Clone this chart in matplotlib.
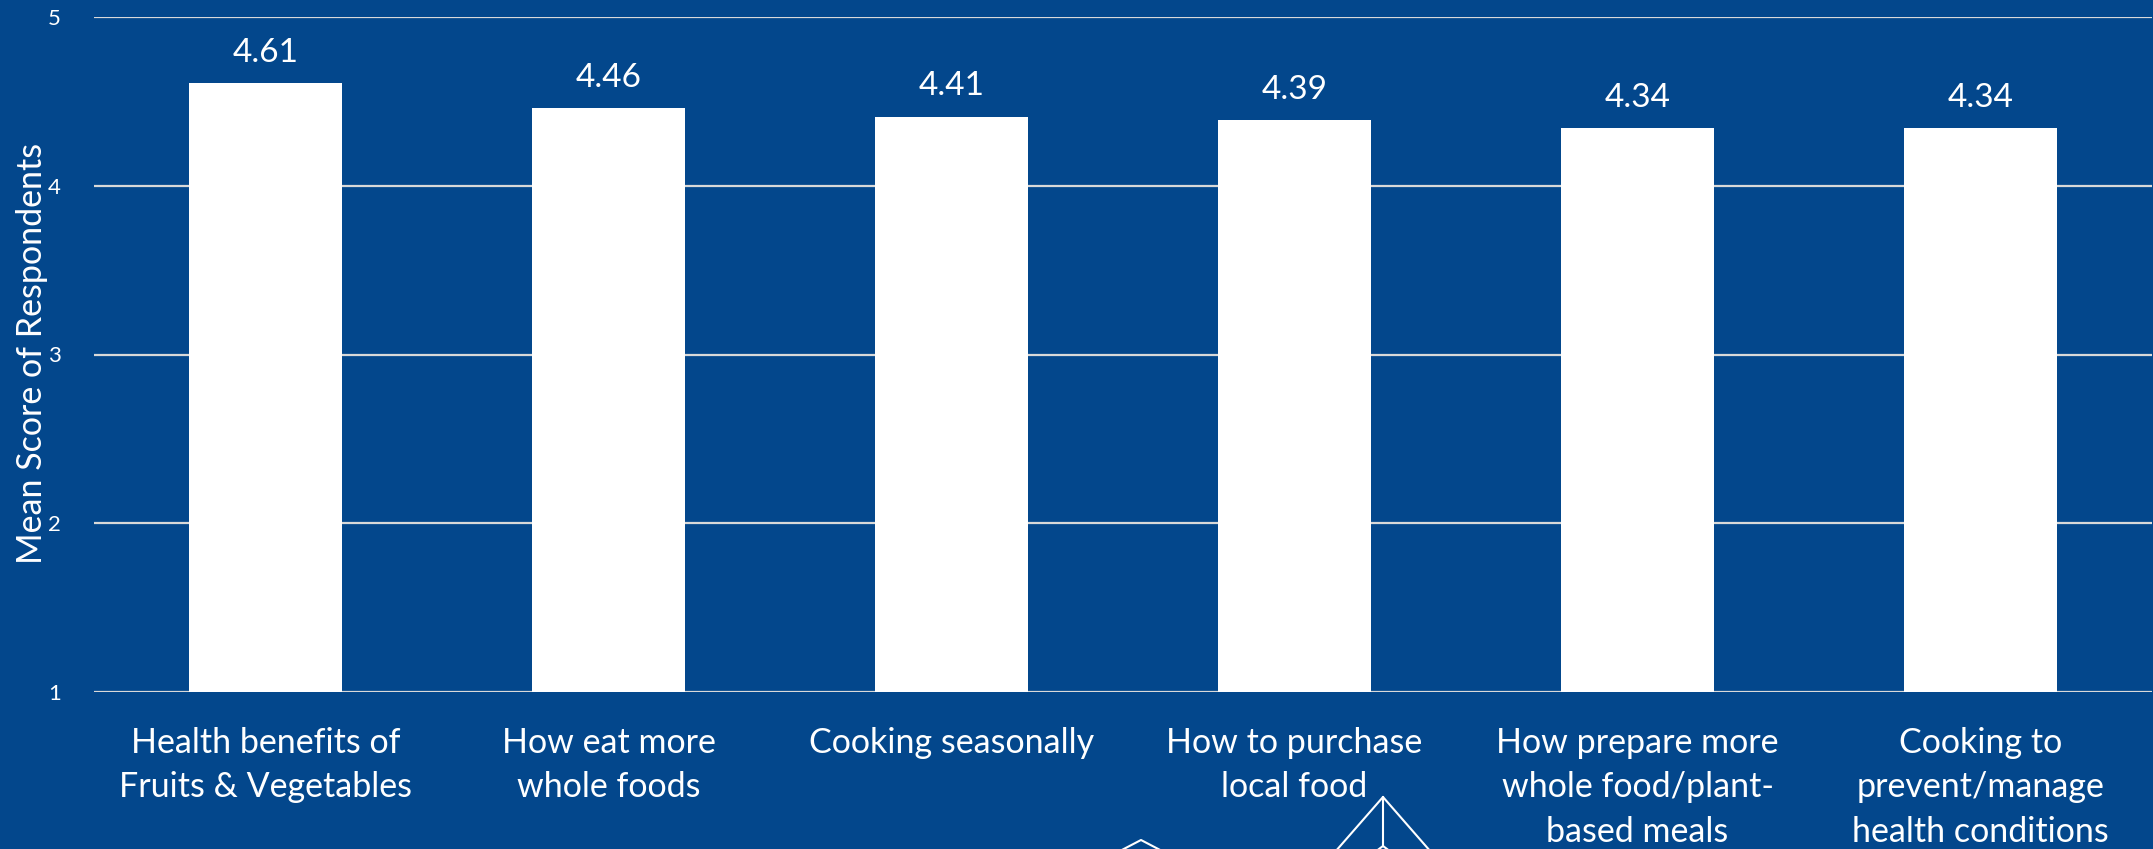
import matplotlib
matplotlib.use("Agg")
import matplotlib.pyplot as plt
from matplotlib.lines import Line2D

categories = [
    "Health benefits of\nFruits & Vegetables",
    "How eat more\nwhole foods",
    "Cooking seasonally",
    "How to purchase\nlocal food",
    "How prepare more\nwhole food/plant-\nbased meals",
    "Cooking to\nprevent/manage\nhealth conditions",
]
mean_scores = [4.61, 4.46, 4.41, 4.39, 4.34, 4.34]
y_ticks = [1, 2, 3, 4, 5]

# line-art ornament along the bottom edge, in pixels
ornament_paths = [
    ([1335, 1383, 1431], [852, 797, 852]),
    ([1383, 1383], [797, 846]),
    ([1375, 1383, 1391], [852, 846, 852]),
    ([1118, 1141, 1164], [852, 840, 852]),
]

BG = "#03478C"
W, H = 2153, 849

plt.rcParams["font.family"] = ["Lato", "DejaVu Sans"]

fig = plt.figure(figsize=(W / 100, H / 100), dpi=100, facecolor=BG)
ax = fig.add_axes([94 / W, 1 - 692 / H, (2152 - 94) / W, (692 - 17) / H], facecolor=BG)

x = range(len(categories))
ax.bar(x, [v - 1 for v in mean_scores], bottom=1, width=0.446, color="white", zorder=3)
for i, v in zip(x, mean_scores):
    ax.text(i, v + 0.09, f"{v:.2f}", ha="center", va="bottom", color="white", fontsize=24)

ax.set_xlim(-0.5, 5.5)
ax.set_ylim(1, 5)
ax.set_yticks(y_ticks)
ax.set_xticks(list(x))
ax.set_xticklabels(categories, color="white", fontsize=24.5, linespacing=1.48)
ax.tick_params(axis="x", length=0, pad=25)
ax.tick_params(axis="y", length=0, pad=24, labelcolor="white", labelsize=16)
ax.yaxis.grid(True, color="#D9D9D9", linewidth=1.6)
ax.set_axisbelow(True)
for sp in ax.spines.values():
    sp.set_visible(False)

fig.text(32 / W, 1 - 353 / H, "Mean Score of Respondents", rotation=90, color="white",
         fontsize=24.5, ha="center", va="center")

for px, py in ornament_paths:
    fig.add_artist(Line2D([p / W for p in px], [1 - p / H for p in py],
                          transform=fig.transFigure, color="white", linewidth=1.5))

fig.savefig("out.png", dpi=100, facecolor=BG)
